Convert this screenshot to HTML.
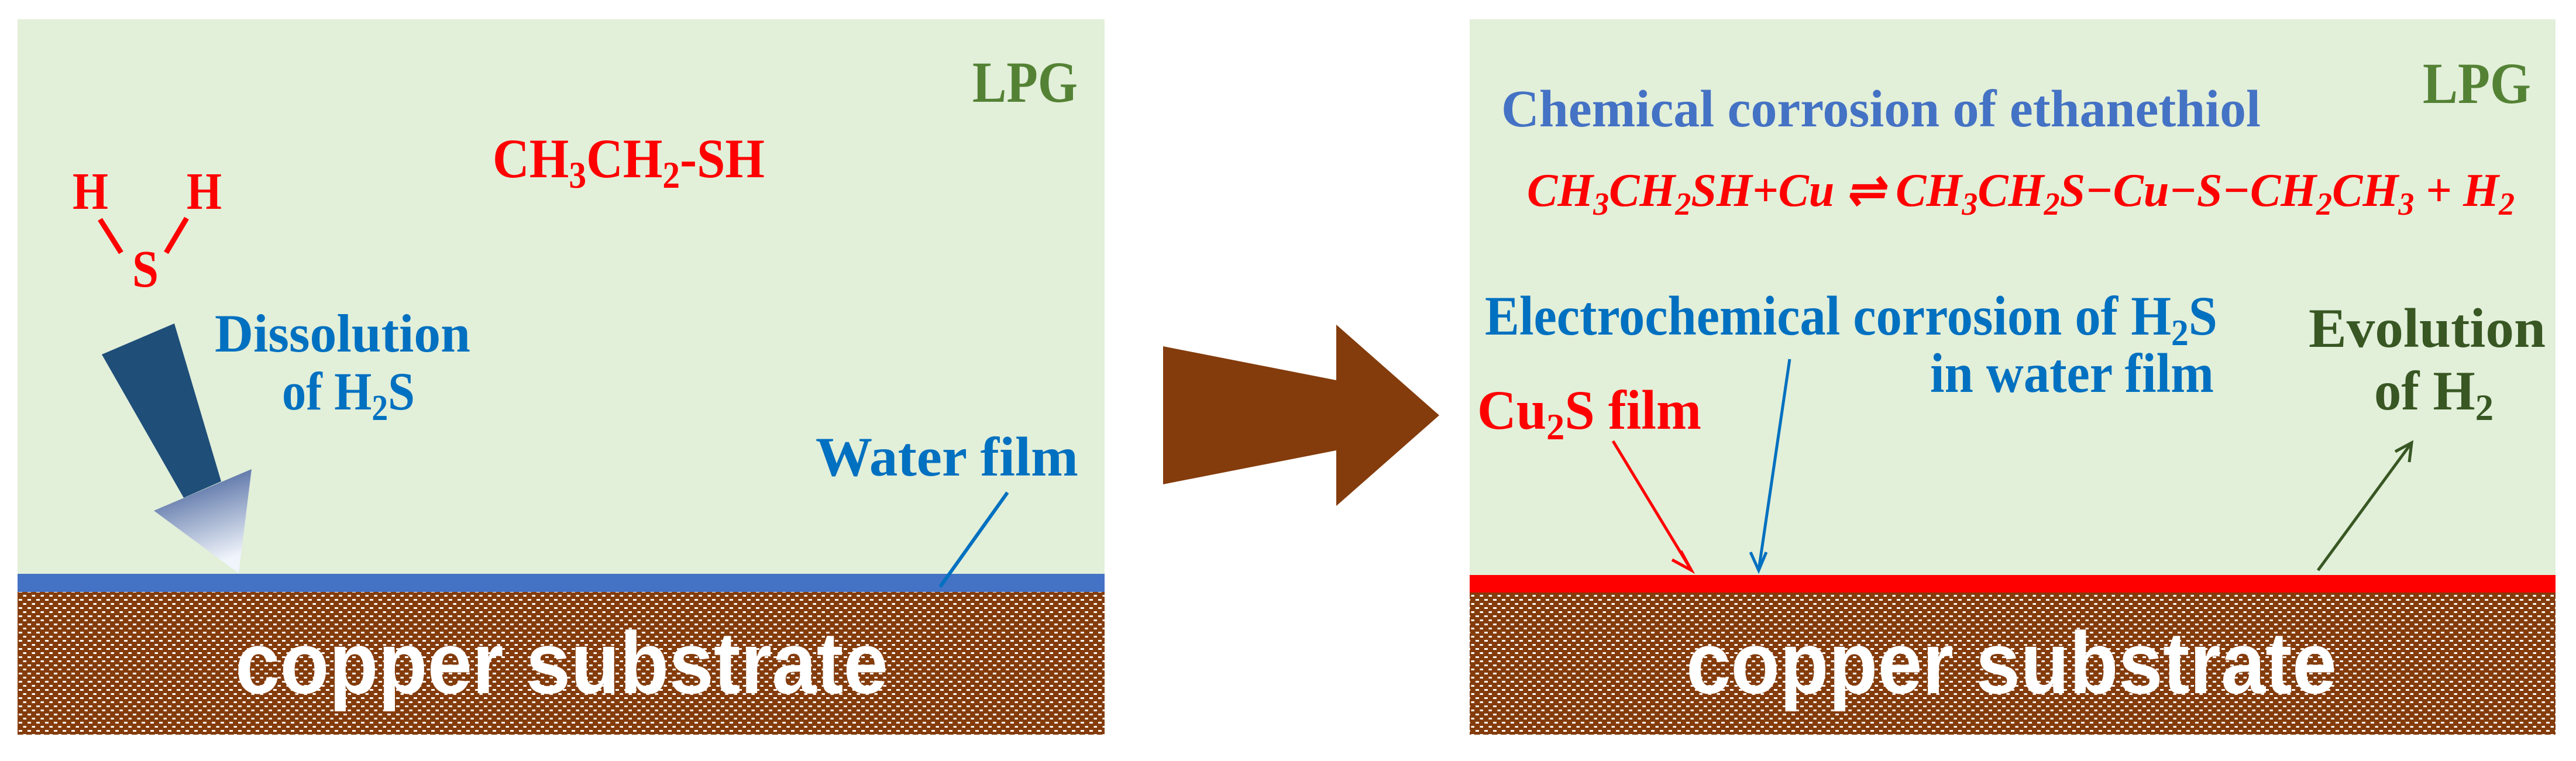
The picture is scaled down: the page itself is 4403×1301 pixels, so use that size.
<!DOCTYPE html>
<html><head><meta charset="utf-8"><style>
html,body{margin:0;padding:0;background:#fff;}
svg{display:block;}
text{font-family:"Liberation Serif",serif;font-weight:bold;}
</style></head><body>
<svg width="4403" height="1301" viewBox="0 0 4403 1301" xmlns="http://www.w3.org/2000/svg">
<defs>
<pattern id="cu" width="15" height="14" patternUnits="userSpaceOnUse">
<rect width="15" height="14" fill="#843c0c"/>
<rect x="2" y="2" width="6" height="3" fill="#fff"/>
<rect x="9.5" y="9" width="6" height="3" fill="#fff"/>
</pattern>
<linearGradient id="hg" x1="0" y1="0" x2="0.3" y2="1">
<stop offset="0" stop-color="#2f4f8f"/>
<stop offset="1" stop-color="#f0f4fb"/>
</linearGradient>
</defs>

<rect x="30" y="33" width="1858" height="950" fill="#e2efd9"/>
<rect x="30" y="981" width="1858" height="31" fill="#4472c4"/>
<rect x="30" y="1012" width="1858" height="244" fill="url(#cu)"/>

<rect x="2512" y="33" width="1856" height="950" fill="#e2efd9"/>
<rect x="2512" y="983" width="1856" height="30" fill="#ff0000"/>
<rect x="2512" y="1013" width="1856" height="243" fill="url(#cu)"/>

<polygon points="1988,592 2284,650 2284,555 2460,710 2284,865 2284,770 1988,828" fill="#843c0c"/>

<text x="1662" y="174" font-size="100" fill="#548235" textLength="180" lengthAdjust="spacingAndGlyphs">LPG</text>
<text x="842" y="303" font-size="95" fill="#ff0000" textLength="465" lengthAdjust="spacingAndGlyphs">CH<tspan font-size="65" dy="18">3</tspan><tspan dy="-18">CH</tspan><tspan font-size="65" dy="18">2</tspan><tspan dy="-18">-SH</tspan></text>
<text x="124" y="357" font-size="90" fill="#ff0000" textLength="61" lengthAdjust="spacingAndGlyphs">H</text>
<text x="319" y="357" font-size="90" fill="#ff0000" textLength="60" lengthAdjust="spacingAndGlyphs">H</text>
<text x="226" y="490" font-size="90" fill="#ff0000" textLength="45" lengthAdjust="spacingAndGlyphs">S</text>
<line x1="171" y1="375" x2="207" y2="432" stroke="#ff0000" stroke-width="9"/>
<line x1="319" y1="373" x2="284" y2="432" stroke="#ff0000" stroke-width="9"/>

<polygon points="174,606 298,553 378,823 314,851" fill="#1f4e79"/>
<polygon points="263,873 430,802 408,980" fill="url(#hg)"/>

<text x="367" y="601" font-size="92" fill="#0070c0" textLength="437" lengthAdjust="spacingAndGlyphs">Dissolution</text>
<text x="482" y="700" font-size="92" fill="#0070c0" textLength="227" lengthAdjust="spacingAndGlyphs">of H<tspan font-size="62" dy="18">2</tspan><tspan dy="-18">S</tspan></text>
<text x="1394" y="813" font-size="95" fill="#0070c0" textLength="449" lengthAdjust="spacingAndGlyphs">Water film</text>
<line x1="1722" y1="842" x2="1607" y2="1003" stroke="#0070c0" stroke-width="6"/>

<text x="402" y="1185" font-size="150" fill="#fff" textLength="1116" lengthAdjust="spacingAndGlyphs" style="font-family:'Liberation Sans',sans-serif;font-weight:bold">copper substrate</text>

<text x="4141" y="176" font-size="100" fill="#548235" textLength="185" lengthAdjust="spacingAndGlyphs">LPG</text>
<text x="2566" y="216" font-size="90" fill="#4472c4" textLength="1298" lengthAdjust="spacingAndGlyphs">Chemical corrosion of ethanethiol</text>
<text x="2610" y="352" font-size="80" font-style="italic" fill="#ff0000" textLength="1688" lengthAdjust="spacingAndGlyphs">CH<tspan font-size="55" dy="15">3</tspan><tspan dy="-15">CH</tspan><tspan font-size="55" dy="15">2</tspan><tspan dy="-15">SH+Cu ⇌ CH</tspan><tspan font-size="55" dy="15">3</tspan><tspan dy="-15">CH</tspan><tspan font-size="55" dy="15">2</tspan><tspan dy="-15">S−Cu−S−CH</tspan><tspan font-size="55" dy="15">2</tspan><tspan dy="-15">CH</tspan><tspan font-size="55" dy="15">3</tspan><tspan dy="-15"> +  H</tspan><tspan font-size="55" dy="15">2</tspan></text>

<text x="2538" y="572" font-size="95" fill="#0070c0" textLength="1252" lengthAdjust="spacingAndGlyphs">Electrochemical corrosion of H<tspan font-size="64" dy="18">2</tspan><tspan dy="-18">S</tspan></text>
<text x="3299" y="670" font-size="95" fill="#0070c0" textLength="485" lengthAdjust="spacingAndGlyphs">in water film</text>
<text x="3946" y="593" font-size="95" fill="#385723" textLength="405" lengthAdjust="spacingAndGlyphs">Evolution</text>
<text x="4058" y="700" font-size="95" fill="#385723" textLength="204" lengthAdjust="spacingAndGlyphs">of H<tspan font-size="64" dy="18">2</tspan></text>
<text x="2525" y="733" font-size="95" fill="#ff0000" textLength="383" lengthAdjust="spacingAndGlyphs">Cu<tspan font-size="64" dy="18">2</tspan><tspan dy="-18">S film</tspan></text>

<line x1="2757" y1="754" x2="2891" y2="975" stroke="#ff0000" stroke-width="5"/>
<path d="M2873,942 L2891,975 L2858,957" fill="none" stroke="#ff0000" stroke-width="5"/>
<line x1="3059" y1="614" x2="3006" y2="975" stroke="#0070c0" stroke-width="5"/>
<path d="M2992,944 L3006,975 L3019,944" fill="none" stroke="#0070c0" stroke-width="5"/>
<line x1="3962" y1="975" x2="4122" y2="757" stroke="#385723" stroke-width="5"/>
<path d="M4094,772 L4122,757 L4118,790" fill="none" stroke="#385723" stroke-width="5"/>

<text x="2882" y="1185" font-size="150" fill="#fff" textLength="1112" lengthAdjust="spacingAndGlyphs" style="font-family:'Liberation Sans',sans-serif;font-weight:bold">copper substrate</text>
</svg>
</body></html>
